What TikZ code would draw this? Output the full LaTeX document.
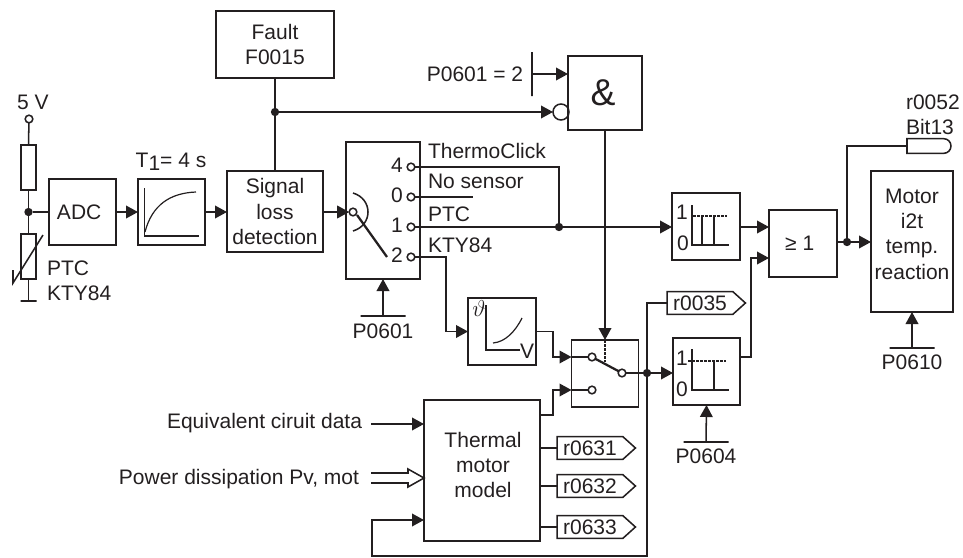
\documentclass[tikz,border=0pt]{standalone}
\usepackage{fontspec}
\setmainfont{Liberation Sans}
\usetikzlibrary{arrows.meta,shapes.symbols,shapes.misc}
\definecolor{ink}{HTML}{231F20}
\tikzset{
  every node/.style={outer sep=0pt,inner sep=0pt,text=ink,font=\fontsize{15.75}{19}\selectfont},
  blk/.style 2 args={draw,align=center,minimum width=#1*0.75pt,minimum height=#2*0.75pt},
  bar/.style={draw,minimum width=#1*0.75pt,minimum height=0pt},
  vbar/.style={draw,minimum height=#1*0.75pt,minimum width=0pt},
  contact/.style={circle,draw,fill=white,minimum size=5.75pt},
  dot/.style={circle,fill=ink,minimum size=6.25pt},
  tag/.style={signal,signal to=east,signal from=nowhere,signal pointer angle=84,draw,inner xsep=4.5pt,inner ysep=0pt,minimum height=17pt},
  pill/.style={rounded rectangle,rounded rectangle left arc=none,draw,minimum width=33pt,minimum height=11pt},
  arr/.style={-{Triangle[length=9pt,width=9.5pt]}},
  plot/.style={line width=0.9pt},
  lever/.style={line width=1.7pt},
  dots/.style={line width=1.6pt,dash pattern=on 2pt off 1pt}
}
\begin{document}
\begin{tikzpicture}[x=0.75pt,y=-0.75pt,draw=ink,line width=1.15pt]
  \useasboundingbox (0,0) rectangle (963,557);
  \node[contact] (volt) at (29,119) {};
  \node (vlabel) at (33,102) {5 V};
  \node[blk={15}{45}] (res) at (28.5,167.5) {};
  \node[dot] (jn1) at (28.5,212) {};
  \node[blk={15}{45}] (ptc) at (28.5,256.5) {};
  \node[bar=16] (gnd) at (28.5,301) {};
  \node[anchor=west,align=left] (ptclabel) at (47,281) {PTC\\KTY84};
  \node[blk={67}{66}] (adc) at (82.5,212) {ADC\hspace{5pt}};
  \node[blk={67}{66}] (lag) at (171.5,212) {};
  \node (lagtxt) at (171,162) {T\raisebox{-2pt}{1}= 4 s};
  \node[blk={96}{81}] (sig) at (275,211.5) {Signal\\loss\\detection};
  \node[blk={118}{67}] (fault) at (275,44.5) {Fault\\F0015};
  \node[dot] (jn2) at (275,112) {};
  \node[blk={74}{74}] (andg) at (605,93) {\fontsize{28}{30}\selectfont\&\hspace{3pt}};
  \node[circle,draw,minimum size=12pt] (neg) at (561,112) {};
  \node (plabel) at (475,74) {P0601 = 2};
  \node[vbar=44] (pbar) at (532,74) {};
  \node[blk={74}{137}] (swi) at (383,210.5) {};
  \node[contact] (inp) at (353,212) {};
  \node[contact] (c4) at (411,167) {};
  \node[contact] (c0) at (411,197) {};
  \node[contact] (c1) at (411,227) {};
  \node[contact] (c2) at (411,257) {};
  \node (l4) at (397,165) {4};
  \node (l0) at (397,195) {0};
  \node (l1) at (397,225) {1};
  \node (l2) at (397,255) {2};
  \node[anchor=west] (tc) at (428,151) {ThermoClick};
  \node[anchor=west] (ns) at (428,181) {No sensor};
  \node[anchor=west] (pt) at (428,214) {PTC};
  \node[anchor=west] (ky) at (428,245) {KTY84};
  \node[dot] (jn3) at (559,227) {};
  \node[bar=45] (bsw) at (383,316) {};
  \node (lsw) at (383,331) {P0601};
  \node[blk={68}{67}] (vco) at (502,331.5) {};
  \node[blk={67}{67}] (sw2) at (605,373.5) {};
  \node[contact] (s2a) at (592,357) {};
  \node[contact] (s2b) at (592,390) {};
  \node[contact] (s2c) at (622,373) {};
  \node[dot] (jn4) at (647,373) {};
  \node[blk={68}{67}] (hy1) at (706,226.5) {};
  \node[blk={67}{67}] (hy2) at (706.5,371.5) {};
  \node[bar=45] (bhy) at (706,442) {};
  \node (lhy) at (706,456) {P0604};
  \node[blk={68}{67}] (ore) at (803,243.5) {≥ 1\hspace{5pt}};
  \node[dot] (jn5) at (847,242) {};
  \node[pill] (bit) at (929,146) {};
  \node[anchor=west,align=left] (bitl) at (906,115) {r0052\\Bit13};
  \node[blk={82}{141}] (mot) at (912,241.5) {};
  \node[align=center] (mottxt) at (912,234) {Motor\\i2t\\temp.\\reaction};
  \node[bar=45] (bmot) at (912,348) {};
  \node (lmot) at (912,362) {P0610};
  \node[blk={116}{141}] (therm) at (482,470.5) {};
  \node[align=center] (thtxt) at (483,465) {Thermal\\motor\\model};
  \node[tag] (r35) at (700,303) {r0035};
  \node[tag] (r31) at (590,448) {r0631};
  \node[tag] (r32) at (590,486) {r0632};
  \node[tag] (r33) at (590,527) {r0633};
  \node[anchor=east] (eqv) at (362,423) {Equivalent ciruit data};
  \node[anchor=east] (pwr) at (359,479) {Power dissipation Pv, mot};
  \coordinate (eqa) at (371,424);
  \coordinate (pwa) at (371,473);
  \coordinate (pwb) at (371,483);
  \coordinate (bk) at (372,556);
  \coordinate (bu) at (372,520);
  \coordinate (k2) at (446,331.5);
  \coordinate (k3) at (553,357);
  \coordinate (k4) at (553,390);
  \coordinate (k5) at (751,258);
  \coordinate (k6) at (647,303);
  \coordinate (k7) at (847,146);
  \coordinate (tr) at (473,197);
  \begin{scope}
    \draw (volt) to (res.north);
    \draw (res.south) to (jn1);
    \draw (jn1) to (ptc.north);
    \draw (ptc.south) to (gnd);
    \draw (jn1) to (adc.west);
    \draw[arr] (adc.east) to (lag.west);
    \draw[arr] (lag.east) to (sig.west |- lag.east);
    \draw[arr] (sig.east |- inp) to (inp);
    \draw (fault.south) to (jn2);
    \draw (jn2) to (sig.north);
    \draw[arr] (jn2) to (neg);
    \draw[arr] (pbar) to (pbar -| andg.west);
    \draw[arr] (bsw) to (swi.south);
    \draw (c4) -| (jn3);
    \draw (c0) to (tr);
    \draw (c1) to (jn3);
    \draw[arr] (jn3) to (jn3 -| hy1.west);
    \draw[arr] (c2) -| (k2) to (vco.west);
    \draw[arr] (vco.east) -| (k3) to (k3 -| sw2.west);
    \draw[arr] (therm.east |- 0,415) -| (k4) to (k4 -| sw2.west);
    \draw[arr] (andg.south) to (sw2.north);
    \draw (s2c) to (jn4);
    \draw[arr] (jn4) to (jn4 -| hy2.west);
    \draw (s2a) to (s2a -| sw2.west);
    \draw (s2b) to (s2b -| sw2.west);
    \draw[arr] (bhy) to (hy2.south);
    \draw[arr] (hy1.east |- 0,227) to (ore.west |- 0,227);
    \draw[arr] (hy2.east |- 0,357) -| (k5) to (k5 -| ore.west);
    \draw (ore.east |- jn5) to (jn5);
    \draw[arr] (jn5) to (jn5 -| mot.west);
    \draw (jn5) |- (k7) to (bit.west);
    \draw[arr] (bmot) to (mot.south);
    \draw (jn4) |- (k6) to (r35.west);
    \draw[arr] (jn4) |- (bk) to (bu) to (bu -| therm.west);
    \draw (therm.east |- r31.west) to (r31.west);
    \draw (therm.east |- r32.west) to (r32.west);
    \draw (therm.east |- r33.west) to (r33.west);
    \draw[arr] (eqa) to (eqa -| therm.west);
    \draw (pwa) to (408,473) to (408,469) to (therm.west |- 0,478) to (408,487) to (408,483) to (pwb);
  \end{scope}
  \draw (13,270) to (13,283) to (43,235);
  \draw[plot] (144.5,188) to (144.5,236) to (199,236);
  \draw[plot] (145,232) .. controls (152,205) and (170,193) .. (196,192);
  \draw (353,193) .. controls (373,199) and (373,225) .. (353,231);
  \draw[lever] (357,215) to (387,257);
  \node (theta) at (479,308) {\fontsize{18}{18}\selectfont$\vartheta$};
  \draw[plot] (486,305) to (486,350) to (520,350);
  \node (vl) at (527,351) {V};
  \draw[plot] (493,343) .. controls (505,342) and (515,332) .. (522,318);
  \draw[lever] (s2a) to (s2c);
  \draw[dots] (605,340) to (605,362);
  \node (h11) at (682,212) {1};
  \node (h10) at (683,243) {0};
  \draw[plot] (692,205) to (692,245) to (729,245);
  \draw[dots] (693,216) to (727,216);
  \draw[plot] (702,216) to (702,245);
  \draw[plot] (714,216) to (714,245);
  \node (h21) at (682,358) {1};
  \node (h20) at (682,389) {0};
  \draw[plot] (692,349) to (692,390) to (729,390);
  \draw[dots] (688,361) to (726,361);
  \draw[plot] (714,361) to (714,390);
  \draw[lever] (698,390) to (714,390);
\end{tikzpicture}
\end{document}
